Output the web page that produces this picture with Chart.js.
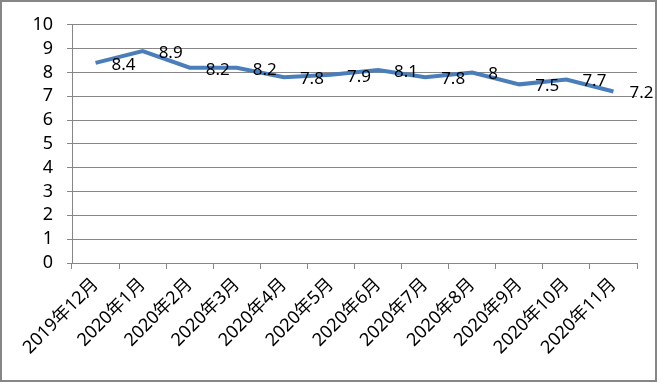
<!DOCTYPE html>
<html>
<head>
<meta charset="utf-8">
<script src="https://cdn.jsdelivr.net/npm/chart.js@4/dist/chart.umd.min.js"></script>
<style>
  body { margin: 0; background: #fff; }
  canvas { display: block; }
</style>
</head>
<body>
<canvas id="chart" width="662" height="383"></canvas>
<script>
const months = ['2019年12月', '2020年1月', '2020年2月', '2020年3月', '2020年4月', '2020年5月',
    '2020年6月', '2020年7月', '2020年8月', '2020年9月', '2020年10月', '2020年11月'];
const values = [8.4, 8.9, 8.2, 8.2, 7.8, 7.9, 8.1, 7.8, 8, 7.5, 7.7, 7.2];
const yMin = 0;
const yMax = 10;

const fontFamily = '"Noto Sans", "Noto Sans CJK SC", sans-serif';
const gridColor = '#878787';

// frame round the whole chart
const framePlugin = {
    id: 'frame',
    beforeDraw(chart) {
        const ctx = chart.ctx;
        ctx.save();
        ctx.fillStyle = '#ffffff';
        ctx.fillRect(0, 0, chart.width, chart.height);
        ctx.strokeStyle = '#868686';
        ctx.lineWidth = 2;
        ctx.strokeRect(1, 1, 655, 380);
        ctx.restore();
    }
};

// value labels to the right of each point
const valueLabels = {
    id: 'valueLabels',
    afterDatasetsDraw(chart) {
        const ctx = chart.ctx;
        const meta = chart.getDatasetMeta(0);
        ctx.save();
        ctx.font = '17px ' + fontFamily;
        ctx.fillStyle = '#000';
        ctx.textAlign = 'left';
        ctx.textBaseline = 'middle';
        meta.data.forEach((pt, i) => {
            ctx.fillText(String(values[i]), pt.x + 16, pt.y + 2);
        });
        ctx.restore();
    }
};

function initChart() {
    const ctx = document.getElementById('chart').getContext('2d');
    new Chart(ctx, {
        type: 'line',
        data: {
            labels: months,
            datasets: [{
                data: values,
                borderColor: '#4a7ebb',
                borderWidth: 4,
                pointRadius: 0,
                tension: 0,
                fill: false
            }]
        },
        options: {
            responsive: false,
            animation: false,
            layout: {
                padding: { top: 24, right: 25, left: 0, bottom: 0 }
            },
            plugins: {
                legend: { display: false },
                tooltip: { enabled: false }
            },
            scales: {
                x: {
                    offset: true,
                    grid: {
                        offset: true,
                        drawOnChartArea: false,
                        drawTicks: true,
                        tickLength: 6,
                        color: gridColor
                    },
                    border: { color: gridColor },
                    ticks: {
                        autoSkip: false,
                        maxRotation: 45,
                        minRotation: 45,
                        padding: 5,
                        color: '#000',
                        font: { family: fontFamily, size: 18 }
                    },
                    afterFit: scale => { scale.height = 120; }
                },
                y: {
                    min: yMin,
                    max: yMax,
                    ticks: {
                        stepSize: 1,
                        autoSkip: false,
                        padding: 14,
                        color: '#000',
                        font: { family: fontFamily, size: 18 }
                    },
                    grid: {
                        color: gridColor,
                        tickLength: 5
                    },
                    border: { color: gridColor },
                    afterFit: scale => { scale.width = 72; }
                }
            }
        },
        plugins: [framePlugin, valueLabels]
    });
}

window.onload = initChart;
</script>
</body>
</html>
